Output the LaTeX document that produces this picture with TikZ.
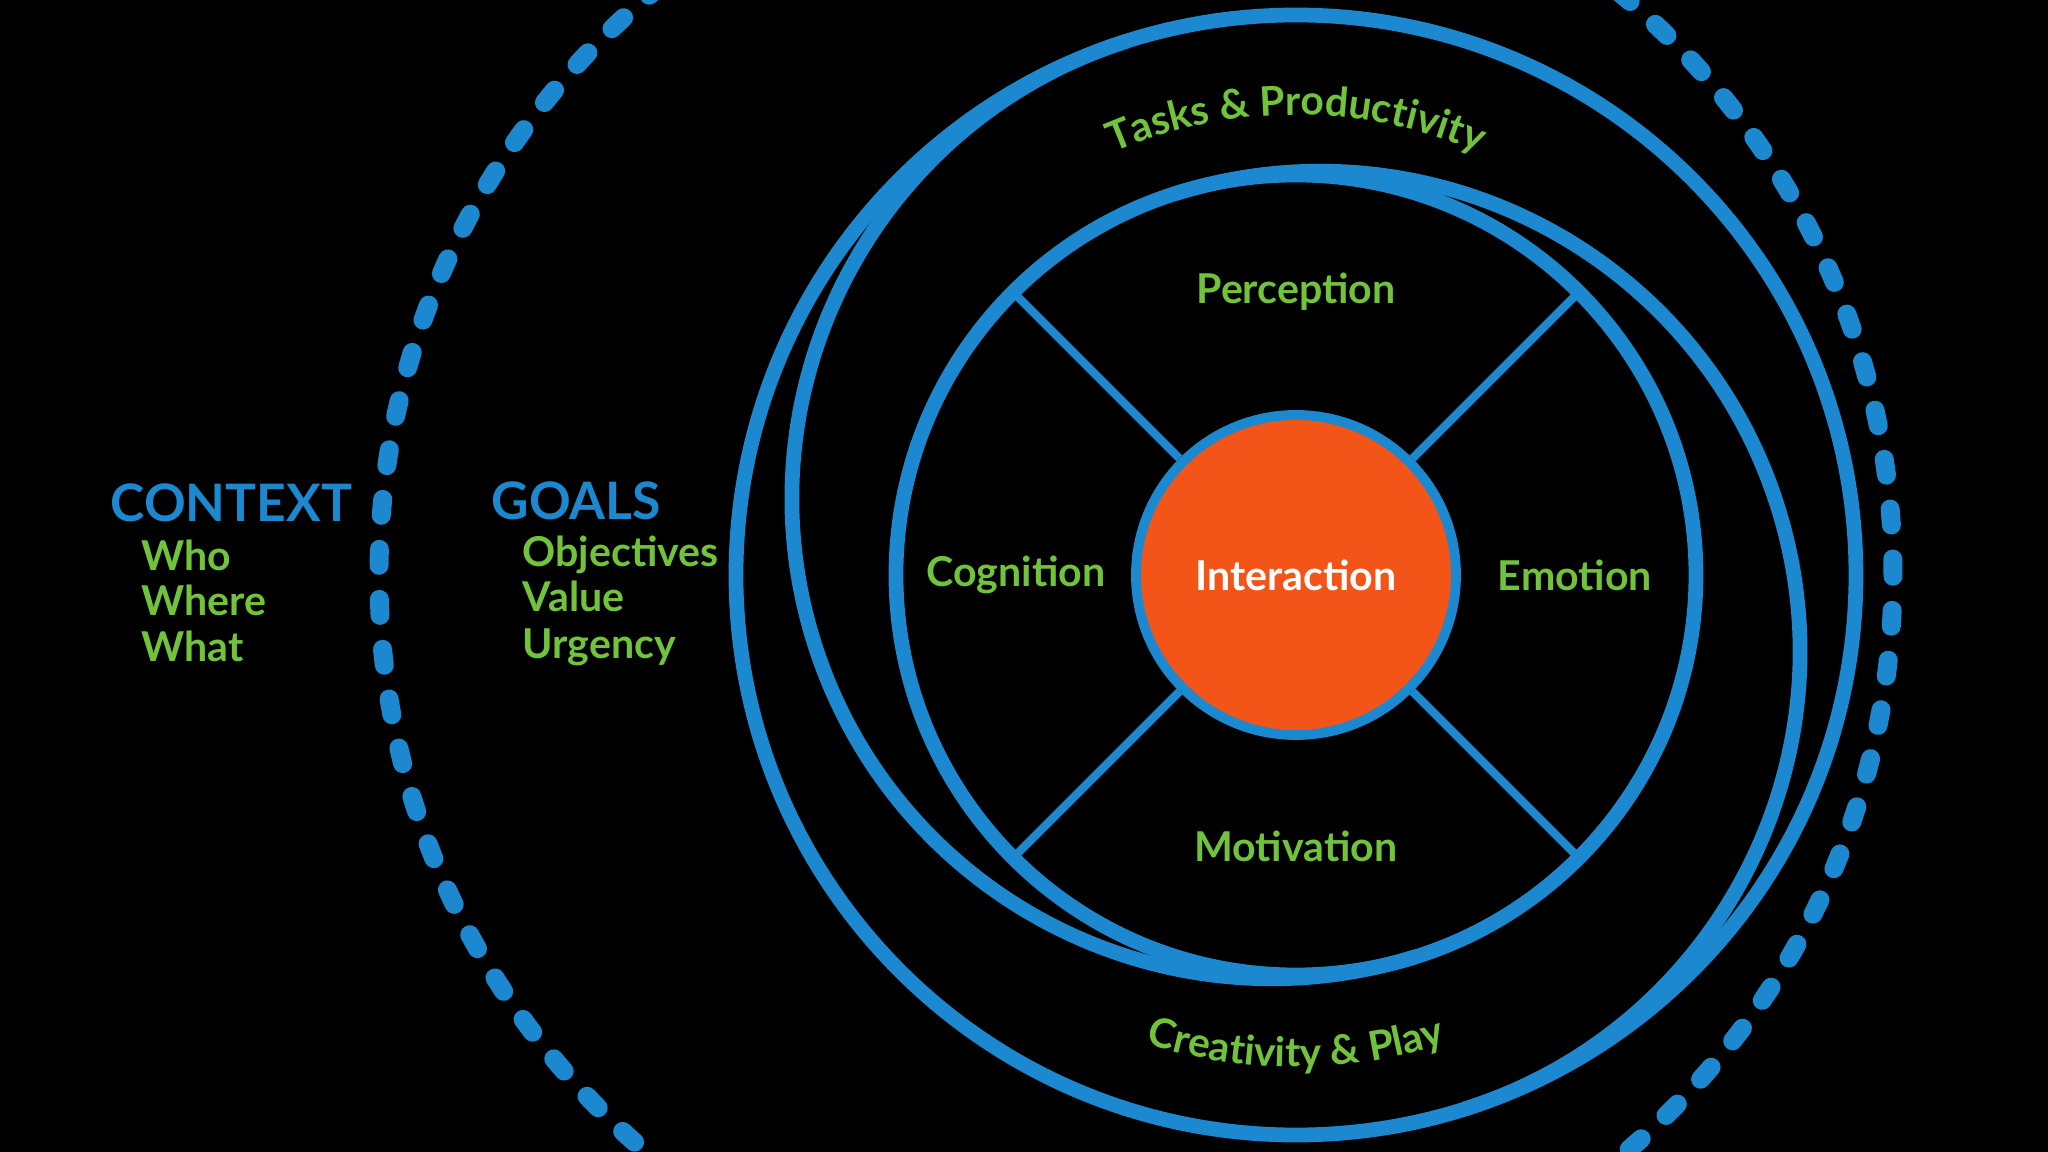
\documentclass[tikz,border=0pt]{standalone}
\usepackage{fontspec}
\setmainfont{Lato}
\usetikzlibrary{positioning, decorations.text}

\definecolor{ringblue}{HTML}{1B88CF}
\definecolor{leafgreen}{HTML}{71C33B}
\definecolor{coreorange}{HTML}{F35418}

\newcommand{\arcfont}{\fontsize{11.6}{13}\selectfont\bfseries\color{leafgreen}}

\begin{document}
\begin{tikzpicture}[
    ring/.style={draw=ringblue, line width=4.2pt},
    divider/.style={draw=ringblue, line width=2.4pt},
    label/.style={text=leafgreen, font=\fontsize{11.7}{13}\selectfont\bfseries, inner sep=0pt},
    heading/.style={text=ringblue, font=\fontsize{14.7}{17}\selectfont\bfseries, inner sep=0pt, anchor=base west},
    item/.style={label, anchor=base west}
]

    % ===== Background =====
    \fill[black] (-12.96, -5.77) rectangle (7.52, 5.75);
    \useasboundingbox (-12.96, -5.77) rectangle (7.52, 5.75);

    % ===== Dotted context boundary =====
    \draw[ringblue, line width=5.4pt, line cap=round, dash pattern=on 0.16cm off 0.3406cm]
        (-1.60, 0) circle (7.57);

    % ===== Outer and inner rings =====
    \draw[ring] (0, 0) circle (5.60);
    \draw[ring] (0, 0) circle (4.00);

    % Offset arcs that run from one ring to the other
    \draw[ring] (-0.24, 0.763) ++(107.5:4.80) arc[start angle=107.5, end angle=287.5, radius=4.80];
    \draw[ring] (0.24, -0.763) ++(107.5:4.80) arc[start angle=107.5, end angle=-72.5, radius=4.80];

    % ===== Core and quadrants =====
    \node[circle, fill=coreorange, draw=ringblue, line width=2.8pt, minimum size=3.2cm,
        text=white, font=\fontsize{11.7}{13}\selectfont\bfseries] (interaction) at (0, 0) {Interaction};

    \foreach \ang in {45, 135, 225, 315}
        \draw[divider] (interaction.\ang) -- (\ang:4.00);

    \node[label] (perception) at (0, 2.83) {Perception};
    \node[label] (cognition) at (-2.80, 0) {Cognition};
    \node[label] (emotion) at (2.79, 0) {Emotion};
    \node[label] (motivation) at (0, -2.71) {Motivation};

    % Ring labels along the arcs
    \path[decorate, decoration={text along path, text align=center,
        text={|\arcfont|Tasks {\&} Productivity}}]
        (125:4.60) arc[start angle=125, end angle=55, radius=4.60];
    \path[decorate, decoration={text along path, text align=center,
        text={|\arcfont|Creativity {\&} Play}}]
        (-125:4.92) arc[start angle=-125, end angle=-55, radius=4.92];

    % ===== Context and goals =====
    \node[heading] (context) at (-11.86, 0.53) {CONTEXT};
    \node[item] (who) at (-11.55, 0.04) {Who};
    \node[item] (where) at (-11.55, -0.41) {Where};
    \node[item] (what) at (-11.55, -0.87) {What};

    \node[heading] (goals) at (-8.05, 0.55) {GOALS};
    \node[item] (objectives) at (-7.74, 0.08) {Objectives};
    \node[item] (value) at (-7.74, -0.37) {Value};
    \node[item] (urgency) at (-7.74, -0.84) {Urgency};

\end{tikzpicture}
\end{document}
